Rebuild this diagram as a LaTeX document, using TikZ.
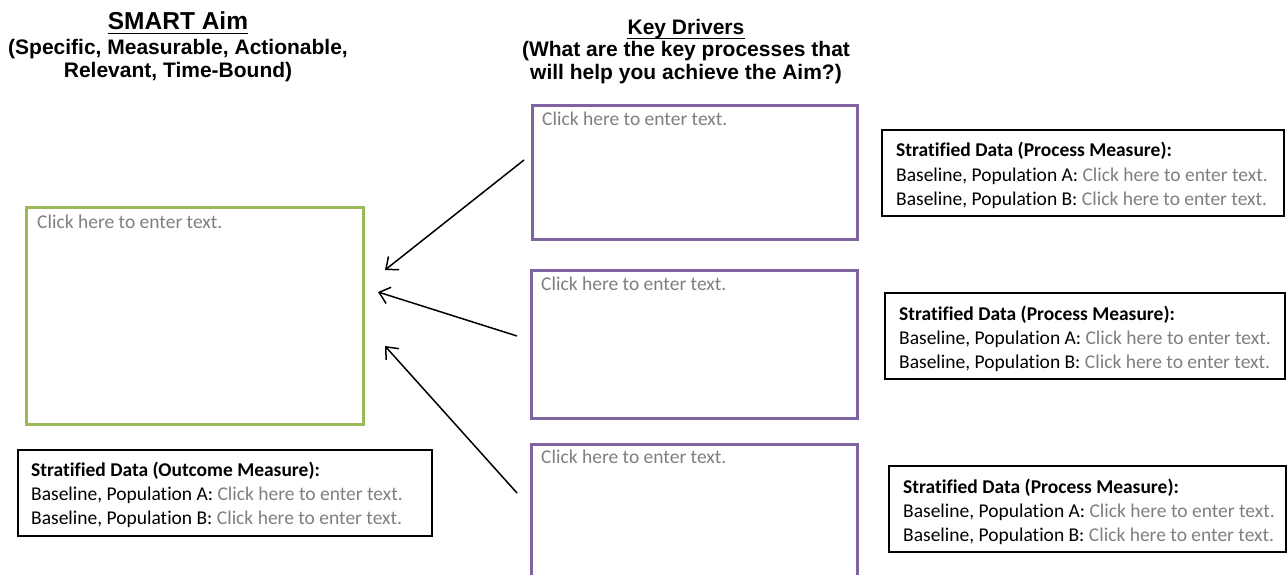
\documentclass[tikz,border=0pt]{standalone}
\usepackage{fontspec}
\setmainfont{Carlito}[Ligatures=NoCommon]
\newfontfamily\headfont{Liberation Sans}
\usetikzlibrary{calc,arrows.meta}
\definecolor{aimgreen}{HTML}{9BBB59}
\definecolor{drvpurple}{HTML}{8064A2}
\definecolor{hint}{HTML}{7F7F7F}
\newcommand{\hinttext}{\textcolor{hint}{Click here to enter text.}}
\tikzset{
  heading/.style={font=\headfont\bfseries\fontsize{21}{22}\selectfont, anchor=base, inner sep=0pt},
  bigheading/.style={font=\headfont\bfseries\fontsize{24.5}{26}\selectfont, anchor=base, inner sep=0pt},
  rulebar/.style={line width=1.8pt},
  aimbox/.style={draw=aimgreen, line width=3pt, inner sep=0pt, outer sep=0pt},
  drvbox/.style={draw=drvpurple, line width=3pt, inner sep=0pt, outer sep=0pt},
  databox/.style={draw=black, line width=1.2pt, inner sep=0pt, outer sep=0pt},
  body/.style={font=\fontsize{19.5}{22}\selectfont, anchor=base west, inner sep=0pt},
  link/.style={line width=1.5pt, -{Straight Barb[length=10pt, width=17pt, line width=1.5pt]}}
}
\begin{document}
\begin{tikzpicture}[x=1pt, y=-1pt]
\useasboundingbox (0,0) rectangle (1287,575);

% column headings
\node[bigheading] (aimtitle) at (178,30) {SMART Aim};
\draw[rulebar] ($(aimtitle.base west)+(0,3.5)$) -- ($(aimtitle.base east)+(0,3.5)$);
\node[heading] (aimsub1) at (178,55) {(Specific, Measurable, Actionable,};
\node[heading] (aimsub2) at (178,78) {Relevant, Time-Bound)};

\node[heading] (kdtitle) at (686,35) {Key Drivers};
\draw[rulebar] ($(kdtitle.base west)+(0,3.5)$) -- ($(kdtitle.base east)+(0,3.5)$);
\node[heading] (kdsub1) at (686,57) {(What are the key processes that};
\node[heading] (kdsub2) at (686,80) {will help you achieve the Aim?)};

% aim box
\node[aimbox, anchor=north west, minimum width=337pt, minimum height=217pt] (aim) at (26.5,207.5) {};
\node[body] (aimtxt) at ($(aim.north west)+(10.5,20.5)$) {\hinttext};

% key driver boxes
\node[drvbox, anchor=north west, minimum width=325pt, minimum height=134pt] (kd1) at (532.5,105.5) {};
\node[body] (kd1txt) at ($(kd1.north west)+(9.5,20)$) {\hinttext};
\node[drvbox, anchor=north west, minimum width=326pt, minimum height=148pt] (kd2) at (531.5,270.5) {};
\node[body] (kd2txt) at ($(kd2.north west)+(9.5,19.5)$) {\hinttext};
\node[drvbox, anchor=north west, minimum width=326pt, minimum height=160pt] (kd3) at (531.5,444) {};
\node[body] (kd3txt) at ($(kd3.north west)+(9.5,19.5)$) {\hinttext};

% stratified data boxes
\node[databox, anchor=north west, minimum width=414pt, minimum height=86pt] (outc) at (18,450) {};
\node[body] (outc1) at ($(outc.north west)+(13,26)$) {\textbf{Stratified Data (Outcome Measure):}};
\node[body] (outc2) at ($(outc.north west)+(13,50)$) {Baseline, Population A: \hinttext};
\node[body] (outc3) at ($(outc.north west)+(13,74)$) {Baseline, Population B: \hinttext};

\node[databox, anchor=north west, minimum width=402pt, minimum height=86pt] (pm1) at (882,130) {};
\node[body] (pm1a) at ($(pm1.north west)+(14,27)$) {\textbf{Stratified Data (Process Measure):}};
\node[body] (pm1b) at ($(pm1.north west)+(14,51)$) {Baseline, Population A: \hinttext};
\node[body] (pm1c) at ($(pm1.north west)+(14,75)$) {Baseline, Population B: \hinttext};

\node[databox, anchor=north west, minimum width=400pt, minimum height=86pt] (pm2) at (885,293) {};
\node[body] (pm2a) at ($(pm2.north west)+(14,27)$) {\textbf{Stratified Data (Process Measure):}};
\node[body] (pm2b) at ($(pm2.north west)+(14,51)$) {Baseline, Population A: \hinttext};
\node[body] (pm2c) at ($(pm2.north west)+(14,75)$) {Baseline, Population B: \hinttext};

\node[databox, anchor=north west, minimum width=397pt, minimum height=86pt] (pm3) at (889,466) {};
\node[body] (pm3a) at ($(pm3.north west)+(14,27)$) {\textbf{Stratified Data (Process Measure):}};
\node[body] (pm3b) at ($(pm3.north west)+(14,51)$) {Baseline, Population A: \hinttext};
\node[body] (pm3c) at ($(pm3.north west)+(14,75)$) {Baseline, Population B: \hinttext};

% arrows from the drivers toward the aim
\coordinate (s1) at (524,160);
\coordinate (t1) at (385,270);
\coordinate (s2) at (517,336);
\coordinate (t2) at (378,292);
\coordinate (s3) at (517,493);
\coordinate (t3) at (385,346);
\draw[link] (s1) -- (t1);
\draw[link] (s2) -- (t2);
\draw[link] (s3) -- (t3);
\end{tikzpicture}
\end{document}
